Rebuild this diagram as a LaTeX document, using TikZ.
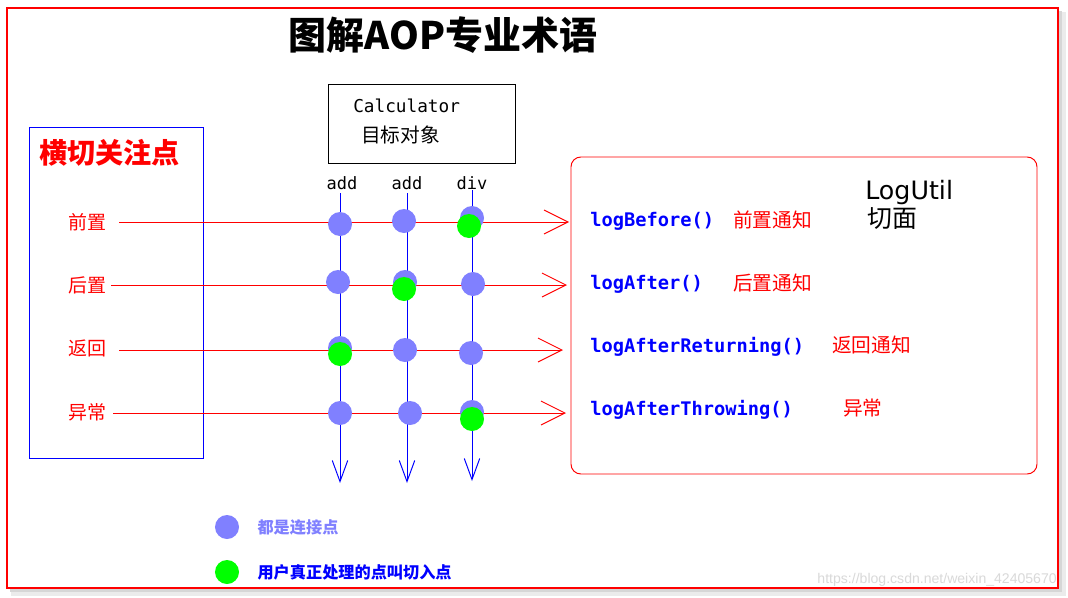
\documentclass[tikz,border=0pt]{standalone}
\usepackage{fontspec}
\setmainfont{DejaVu Sans}
\newfontfamily\cjk{Noto Sans CJK SC}
\newfontfamily\monofont{DejaVu Sans Mono}
\newfontfamily\wmfont{Liberation Sans}
\usetikzlibrary{arrows.meta,positioning}
\definecolor{dotblue}{RGB}{128,128,255}
\definecolor{dotgreen}{RGB}{0,255,0}

\begin{document}
\begin{tikzpicture}[x=0.025cm,y=-0.025cm]
	\tikzstyle{every node}=[inner sep=0pt]
	\tikzstyle{joinpt}=[circle,fill=dotblue,minimum size=0.6cm]
	\tikzstyle{cutpt}=[circle,fill=dotgreen,minimum size=0.6cm]
	\tikzstyle{concern}=[font=\cjk\fontsize{13.5}{16}\selectfont,text=red,anchor=west]
	\tikzstyle{advice}=[font=\monofont\bfseries\fontsize{13.3}{16}\selectfont,text=blue,anchor=west]
	\tikzstyle{advicecn}=[font=\cjk\fontsize{14}{16}\selectfont,text=red,anchor=west]
	\tikzstyle{method}=[font=\monofont\fontsize{12.1}{14}\selectfont]
	\tikzstyle{legtext}=[font=\cjk\bfseries\fontsize{11.5}{14}\selectfont,anchor=west]
	\tikzstyle{crossline}=[red,line width=0.7pt,-{Straight Barb[length=17pt,width=17pt]}]
	\tikzstyle{methline}=[blue,line width=0.7pt,-{Straight Barb[length=15pt,width=11pt]}]
	\useasboundingbox (0,0) rectangle (1068,598);
	\fill[white] (0,0) rectangle (1068,598);
	\fill[black!8] (11,12) rectangle (1066,596);
	\fill[black!16] (10,11) rectangle (1062,592);
	\draw[red,line width=1pt,fill=white] (7,8) rectangle (1058,588);
	\node[font=\cjk\bfseries\fontsize{27}{31}\selectfont] (title) at (443,35) {图解AOP专业术语};
	\draw[blue,line width=0.7pt] (29,127) rectangle (203,458);
	\node[font=\cjk\bfseries\fontsize{20}{23}\selectfont,text=red,anchor=west] (concerns) at (39,153) {横切关注点};
	\draw[line width=0.7pt] (328,84) rectangle (515,163);
	\node[font=\monofont\fontsize{12.6}{15}\selectfont,anchor=west] (calc) at (353,106) {Calculator};
	\node[font=\cjk\fontsize{14}{16}\selectfont,anchor=west] (target) at (361,135) {目标对象};
	\draw[red,line width=0.7pt,rounded corners=7pt] (571,157) rectangle (1037,474);
	\node[concern] (before) at (68,222) {前置};
	\node[concern] (after) at (68,285) {后置};
	\node[concern] (returning) at (68,348) {返回};
	\node[concern] (throwing) at (68,412) {异常};
	\coordinate (s1) at (119,222);
	\coordinate (s2) at (111,285);
	\coordinate (s3) at (119,350);
	\coordinate (s4) at (113,413);
	\coordinate (e1) at (569,222);
	\coordinate (e2) at (567,285);
	\coordinate (e3) at (563,350);
	\coordinate (e4) at (566,413);
	\node[method] (add1) at (342,183) {add};
	\node[method] (add2) at (407,183) {add};
	\node[method] (div) at (472,183) {div};
	\coordinate (t1) at (340,193);
	\coordinate (t2) at (407,193);
	\coordinate (t3) at (472,190);
	\coordinate (b1) at (340,483);
	\coordinate (b2) at (407,483);
	\coordinate (b3) at (472,481);
	\draw[methline] (t1) -- (b1);
	\draw[methline] (t2) -- (b2);
	\draw[methline] (t3) -- (b3);
	\draw[crossline] (s1) -- (e1);
	\draw[crossline] (s2) -- (e2);
	\draw[crossline] (s3) -- (e3);
	\draw[crossline] (s4) -- (e4);
	\node[joinpt] (j11) at (340,224) {};
	\node[joinpt] (j12) at (404,221) {};
	\node[joinpt] (j13) at (472,218) {};
	\node[cutpt] (c13) at (469,226) {};
	\node[joinpt] (j21) at (338,282) {};
	\node[joinpt] (j22) at (405,282) {};
	\node[joinpt] (j23) at (473,284) {};
	\node[cutpt] (c22) at (404,289) {};
	\node[joinpt] (j31) at (340,348) {};
	\node[joinpt] (j32) at (405,350) {};
	\node[joinpt] (j33) at (471,353) {};
	\node[cutpt] (c31) at (340,354) {};
	\node[joinpt] (j41) at (340,413) {};
	\node[joinpt] (j42) at (410,413) {};
	\node[joinpt] (j43) at (472,412) {};
	\node[cutpt] (c43) at (472,419) {};
	\node[advice] (logbefore) at (590,221) {logBefore()};
	\node[advice] (logafter) at (590,284) {logAfter()};
	\node[advice] (logreturning) at (590,347) {logAfterReturning()};
	\node[advice] (logthrowing) at (590,410) {logAfterThrowing()};
	\node[advicecn] (nbefore) at (733,220) {前置通知};
	\node[advicecn] (nafter) at (733,283) {后置通知};
	\node[advicecn] (nreturning) at (832,345) {返回通知};
	\node[advicecn] (nthrowing) at (843,408) {异常};
	\node[font=\fontsize{18}{20}\selectfont,anchor=west] (logutil) at (865,193) {LogUtil};
	\node[font=\cjk\fontsize{17.7}{20}\selectfont,anchor=west] (aspect) at (867,219) {切面};
	\node[joinpt] (legjoin) at (227,527) {};
	\node[cutpt] (legcut) at (227,572) {};
	\node[legtext,text=dotblue,right=0.45cm of legjoin] (legjointext) {都是连接点};
	\node[legtext,text=blue,right=0.45cm of legcut] (legcuttext) {用户真正处理的点叫切入点};
	\node[font=\wmfont\fontsize{10}{12}\selectfont,text=black!15,anchor=east] (watermark) at (1057,580) {https://blog.csdn.net/weixin\_42405670};
\end{tikzpicture}
\end{document}
